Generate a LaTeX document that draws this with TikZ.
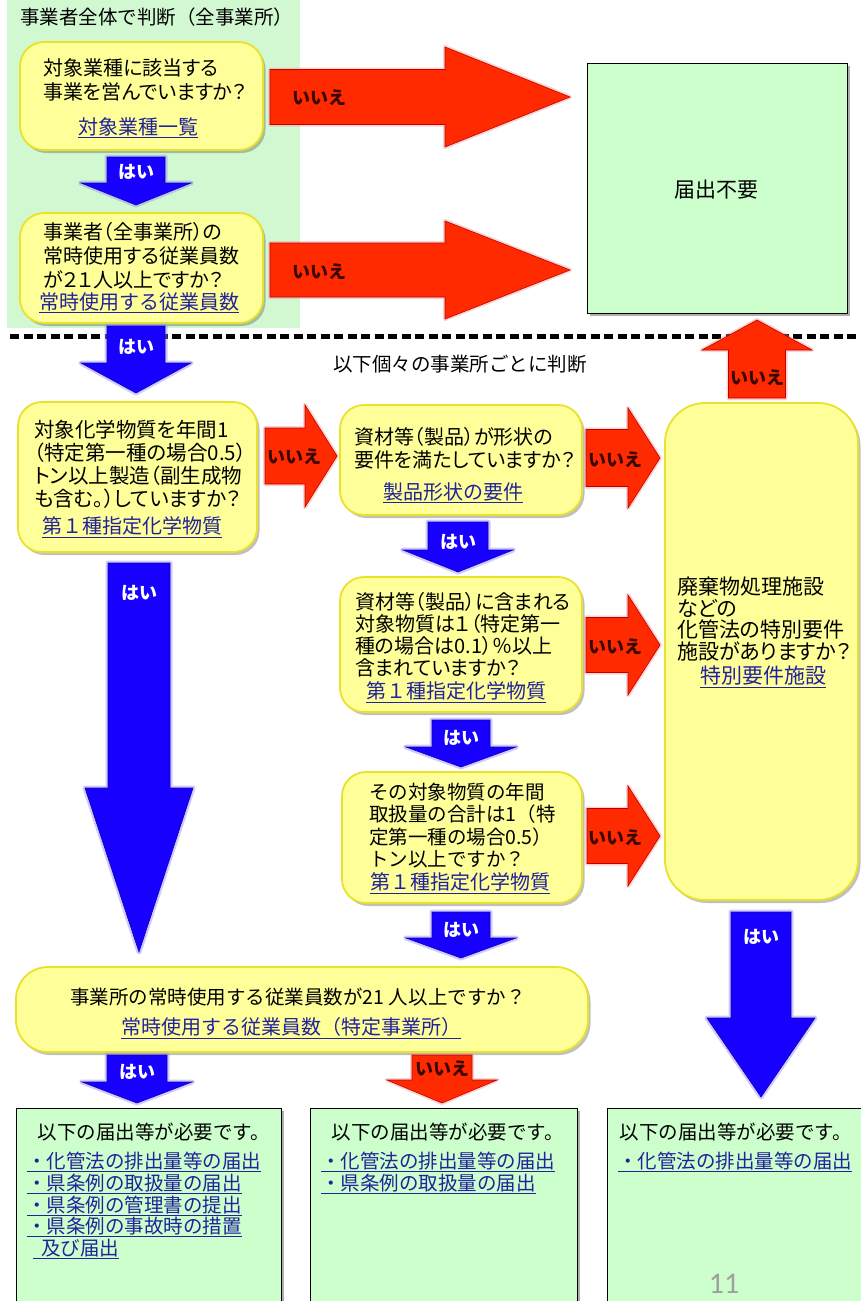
\documentclass[tikz,border=0pt]{standalone}
\usepackage{fontspec}
\setmainfont{Noto Sans CJK JP}
\newfontfamily\jpp{Noto Sans CJK JP}[RawFeature=+palt]
\newfontfamily\numfont{Carlito}
\usetikzlibrary{shadows}
\definecolor{boxyel}{HTML}{FFFF99}
\definecolor{yelbord}{HTML}{E8E22A}
\definecolor{panelgreen}{HTML}{D2F8D2}
\definecolor{boxgreen}{HTML}{CCFFCC}
\definecolor{arrblue}{HTML}{1800FF}
\definecolor{arrred}{HTML}{FF2A00}
\definecolor{linkblue}{HTML}{22229A}
\definecolor{noink}{HTML}{3A0800}
\newcommand\blkarrv[6]{(#1-#5,#2) -- (#1+#5,#2) -- (#1+#5,#3) -- (#1+#6,#3) -- (#1,#4) -- (#1-#6,#3) -- (#1-#5,#3) -- cycle}
\newcommand\blkarrh[6]{(#2,#1-#5) -- (#2,#1+#5) -- (#3,#1+#5) -- (#3,#1+#6) -- (#4,#1) -- (#3,#1-#6) -- (#3,#1-#5) -- cycle}
\newcommand\lnk[1]{\underline{#1}}
\begin{document}
\begin{tikzpicture}[x=1pt,y=-1pt,
  qbox/.style={draw=yelbord, line width=1.8pt, fill=boxyel, rounded corners=24pt,
    drop shadow={shadow xshift=2.5pt, shadow yshift=-3pt, opacity=0.35, fill=black!70}},
  gbox/.style={draw=black, line width=1pt, fill=boxgreen,
    drop shadow={shadow xshift=3pt, shadow yshift=-3pt, opacity=0.45, fill=black!70}},
  qtext/.style={font=\fontsize{19.5}{23}\selectfont, align=left, anchor=west, inner sep=0pt},
  ptext/.style={align=left, anchor=west, inner sep=0pt},
  ltext/.style={font=\fontsize{20}{22}\selectfont, text=linkblue, inner sep=0pt},
  btext/.style={font=\fontsize{19.5}{21.7}\selectfont, text=linkblue, anchor=west, inner sep=0pt},
  barr/.style={fill=arrblue, draw=arrblue!70!black, line width=0.6pt,
    preaction={draw=arrblue!45, line width=5pt, opacity=0.45, line join=round}},
  rarr/.style={fill=arrred, draw=red!75!black, line width=0.6pt,
    preaction={draw=red!45, line width=4pt, opacity=0.4, line join=round}},
  yeslab/.style={text=white, font=\bfseries\fontsize{18}{20}\selectfont, inner sep=0pt},
  nolab/.style={text=noink, font=\bfseries\fontsize{18}{20}\selectfont, inner sep=0pt}
]
\useasboundingbox (0,0) rectangle (861,1301);
\clip (0,0) rectangle (861,1301);
\fill[white] (0,0) rectangle (861,1301);
\fill[panelgreen] (7,0) rectangle (300,328);
\node[qtext] (ttl) at (20,17) {事業者全体で判断（全事業所）};

% dashed separator
\draw[line width=5pt, dash pattern=on 9pt off 4.5pt] (10,336) -- (861,336);
\node[qtext] (sep) at (333,364) {以下個々の事業所ごとに判断};

% boxes
\node[qbox, minimum width=243pt, minimum height=108pt] (b1) at (141.5,96) {};
\node[qbox, minimum width=243pt, minimum height=110pt] (b2) at (141.5,268) {};
\node[qbox, minimum width=239pt, minimum height=150pt] (b3) at (137.5,477) {};
\node[qbox, minimum width=242pt, minimum height=110pt] (b4) at (461,460) {};
\node[qbox, minimum width=242pt, minimum height=135pt] (b5) at (461,644.5) {};
\node[qbox, minimum width=240pt, minimum height=131pt] (b6) at (462,837.5) {};
\node[qbox, rounded corners=40pt, minimum width=193pt, minimum height=497pt] (sp) at (761.5,651.5) {};
\node[qbox, rounded corners=32pt, minimum width=572pt, minimum height=85pt] (wide) at (302,1009.5) {};
\node[gbox, minimum width=260pt, minimum height=250pt] (nof) at (717,188) {};
\node[gbox, minimum width=265pt, minimum height=222pt] (ba) at (148.5,1219) {};
\node[gbox, minimum width=267pt, minimum height=222pt] (bb) at (443.5,1219) {};
\node[gbox, minimum width=268pt, minimum height=222pt] (bc) at (741,1219) {};

% texts in boxes
\node[ptext, font=\jpp\fontsize{20}{24}\selectfont] (t1) at (43,80) {対象業種に該当する\\事業を営んでいますか？};
\node[ltext] (l1) at (138,128) {\lnk{対象業種一覧}};
\node[ptext, font=\jpp\fontsize{20}{24}\selectfont] (t2) at (43,256) {事業者（全事業所）の\\常時使用する従業員数\\が２１人以上ですか？};
\node[ltext] (l2) at (139,303) {\lnk{常時使用する従業員数}};
\node[ptext, font=\jpp\fontsize{20.5}{23}\selectfont] (t3) at (34,464.5) {対象化学物質を年間1\\（特定第一種の場合0.5）\\トン以上製造（副生成物\\も含む。）していますか？};
\node[ltext] (l3) at (132,527) {\lnk{第１種指定化学物質}};
\node[ptext, font=\jpp\fontsize{20}{23}\selectfont] (t4) at (354,448.5) {資材等（製品）が形状の\\要件を満たしていますか？};
\node[ltext] (l4) at (453,493) {\lnk{製品形状の要件}};
\node[ptext, font=\jpp\fontsize{20}{22}\selectfont] (t5) at (355,635) {資材等（製品）に含まれる\\対象物質は１（特定第一\\種の場合は0.1）％以上\\含まれていますか？};
\node[ltext] (l5) at (456,692) {\lnk{第１種指定化学物質}};
\node[qtext, font=\fontsize{19.5}{22.3}\selectfont] (t6) at (369,825.5) {その対象物質の年間\\取扱量の合計は1（特\\定第一種の場合0.5）\\トン以上ですか？};
\node[ltext] (l6) at (460,883) {\lnk{第１種指定化学物質}};
\node[ptext, font=\jpp\fontsize{21}{21.8}\selectfont] (t7) at (677,619) {廃棄物処理施設\\などの\\化管法の特別要件\\施設がありますか？};
\node[ltext, font=\fontsize{21}{22}\selectfont] (l7) at (763,677) {\lnk{特別要件施設}};
\node[font=\fontsize{19.5}{22}\selectfont, inner sep=0pt] (t8) at (298,997) {事業所の常時使用する従業員数が21 人以上ですか？};
\node[ltext] (l8) at (291,1028) {\lnk{常時使用する従業員数（特定事業所）}};
\node[font=\fontsize{21}{22}\selectfont, inner sep=0pt] (tn) at (716,190) {届出不要};

% bottom boxes text
\node[font=\fontsize{19.5}{22}\selectfont, inner sep=0pt] (ta) at (154,1132) {以下の届出等が必要です。};
\node[font=\fontsize{19.5}{22}\selectfont, inner sep=0pt] (tb) at (448,1132) {以下の届出等が必要です。};
\node[font=\fontsize{19.5}{22}\selectfont, inner sep=0pt] (tc) at (736,1132) {以下の届出等が必要です。};
\node[btext] (a1) at (27,1162) {\lnk{・化管法の排出量等の届出}};
\node[btext] (a2) at (27,1184) {\lnk{・県条例の取扱量の届出}};
\node[btext] (a3) at (27,1206) {\lnk{・県条例の管理書の提出}};
\node[btext] (a4) at (27,1227) {\lnk{・県条例の事故時の措置}};
\node[btext] (a5) at (33,1249) {\lnk{\hspace{8pt}及び届出}};
\node[btext] (b1t) at (321,1162) {\lnk{・化管法の排出量等の届出}};
\node[btext] (b2t) at (321,1184) {\lnk{・県条例の取扱量の届出}};
\node[btext] (c1t) at (618,1162) {\lnk{・化管法の排出量等の届出}};

% blue arrows (はい)
\fill[barr] \blkarrv{136}{157}{183}{205}{29}{55};
\node[yeslab] (y1) at (136,172) {はい};
\fill[barr] \blkarrv{136}{326}{363}{393}{29}{55};
\node[yeslab] (y2) at (136,347) {はい};
\fill[barr] \blkarrv{139}{563}{788}{952}{31}{54};
\node[yeslab] (y3) at (139,593) {はい};
\fill[barr] \blkarrv{458}{522}{550}{572}{30}{55};
\node[yeslab] (y4) at (458,542) {はい};
\fill[barr] \blkarrv{461}{720}{747}{767}{29}{55};
\node[yeslab] (y5) at (461,738) {はい};
\fill[barr] \blkarrv{461}{912}{938}{958}{29}{55};
\node[yeslab] (y6) at (461,930) {はい};
\fill[barr] \blkarrv{761}{912}{1018}{1097}{30}{54};
\node[yeslab] (y7) at (761,937) {はい};
\fill[barr] \blkarrv{137}{1055}{1082}{1103}{30}{55};
\node[yeslab] (y8) at (137,1072) {はい};

% red arrows (いいえ)
\fill[rarr] \blkarrh{97}{270}{445}{570}{27.5}{50};
\node[nolab] (n1) at (319,98) {いいえ};
\fill[rarr] \blkarrh{270}{270}{445}{570}{27}{49};
\node[nolab] (n2) at (319,272) {いいえ};
\fill[rarr] \blkarrh{456}{265}{305}{337}{28}{51};
\node[nolab] (n3) at (294,457) {いいえ};
\fill[rarr] \blkarrh{458}{586}{628}{660}{28.5}{50};
\node[nolab] (n4) at (615,460) {いいえ};
\fill[rarr] \blkarrh{645}{586}{628}{660}{27.5}{50};
\node[nolab] (n5) at (615,647) {いいえ};
\fill[rarr] \blkarrh{836}{587}{628}{660}{27.5}{50};
\node[nolab] (n6) at (615,838) {いいえ};
\fill[rarr] \blkarrv{757}{398}{350}{320}{28.5}{55};
\node[nolab] (n7) at (757,378) {いいえ};
\fill[rarr] \blkarrv{442}{1055}{1080}{1103}{30}{55};
\node[nolab] (n8) at (442,1069) {いいえ};

% page number
\node[text=gray!75, font=\numfont\fontsize{30}{30}\selectfont, inner sep=0pt] (pg) at (724,1284) {11};
\end{tikzpicture}
\end{document}
